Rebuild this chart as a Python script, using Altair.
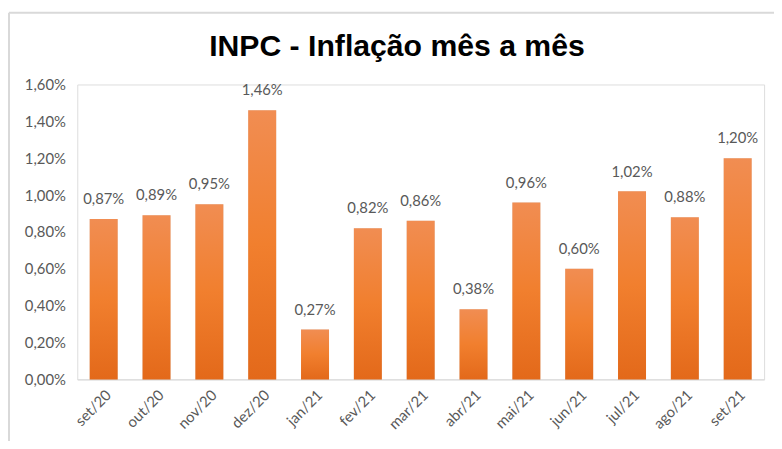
import altair as alt
import pandas as pd

months = ["set/20", "out/20", "nov/20", "dez/20", "jan/21", "fev/21", "mar/21",
          "abr/21", "mai/21", "jun/21", "jul/21", "ago/21", "set/21"]
inpc = [0.87, 0.89, 0.95, 1.46, 0.27, 0.82, 0.86, 0.38, 0.96, 0.60, 1.02, 0.88, 1.20]
y_ticks = [0.0, 0.2, 0.4, 0.6, 0.8, 1.0, 1.2, 1.4, 1.6]
chart_title = ["INPC - Inflação mês a mês"]

df = pd.DataFrame({"mes": months, "valor": inpc})
df_title = pd.DataFrame({"titulo": chart_title})

W, H = 694, 298
PAD_L, PAD_T = 70, 75
FS = 15

x_enc = alt.X("mes:N", sort=months, title=None,
              scale=alt.Scale(paddingInner=0.47, paddingOuter=0.235),
              axis=alt.Axis(labelAngle=-45, labelFont="Lato", labelFontSize=FS,
                            labelColor="#595959", ticks=False, domainColor="#D9D9D9",
                            domainWidth=1, labelPadding=8))
y_enc = alt.Y("valor:Q", title=None,
              scale=alt.Scale(domain=[0, 1.6], nice=False),
              axis=alt.Axis(values=y_ticks, grid=False, domain=False, ticks=False,
                            labelFont="Lato", labelFontSize=FS, labelColor="#595959",
                            labelPadding=12, labelOverlap=False, labelBound=False,
                            labelExpr="replace(format(datum.value, '.2f'), '.', ',') + '%'"))

grad = alt.Gradient(gradient="linear", x1=0, x2=0, y1=0, y2=1,
                    stops=[alt.GradientStop(offset=0, color="#F18D52"),
                           alt.GradientStop(offset=0.5, color="#F17F2E"),
                           alt.GradientStop(offset=1, color="#E3691A")])

shadow = alt.Chart(df).mark_bar(color="#000000", opacity=0.12, dx=2).encode(
    x=x_enc, y=y_enc)

bars = alt.Chart(df).mark_bar(color=grad).encode(x=x_enc, y=y_enc)

labels = alt.Chart(df).transform_calculate(
    rotulo="replace(format(datum.valor, '.2f'), '.', ',') + '%'"
).mark_text(font="Lato", fontSize=FS, color="#595959", baseline="bottom", dy=-12).encode(
    x=x_enc, y=y_enc, text="rotulo:N")

title = alt.Chart(df_title).mark_text(
    font="Liberation Sans", fontSize=30.5, fontWeight="bold", color="#000000",
    align="center", baseline="alphabetic").encode(
    x=alt.value(323), y=alt.value(-29), text="titulo:N")

border_top = alt.Chart(df_title).mark_rule(color="#D9D9D9", strokeWidth=2).encode(
    x=alt.value(-69), x2=alt.value(W + 20), y=alt.value(-72.5))
border_left = alt.Chart(df_title).mark_rule(color="#D9D9D9", strokeWidth=2).encode(
    x=alt.value(-69), y=alt.value(-72.5), y2=alt.value(H + 80))

chart = alt.layer(border_top, border_left, title, shadow, bars, labels).properties(
    width=W, height=H,
    autosize=alt.AutoSizeParams(type="none"),
    padding={"left": PAD_L, "top": PAD_T, "right": 10, "bottom": 60},
).configure_view(stroke=None).configure(background="white")

chart.save("out.html", embed_options={"renderer": "svg", "actions": False})
